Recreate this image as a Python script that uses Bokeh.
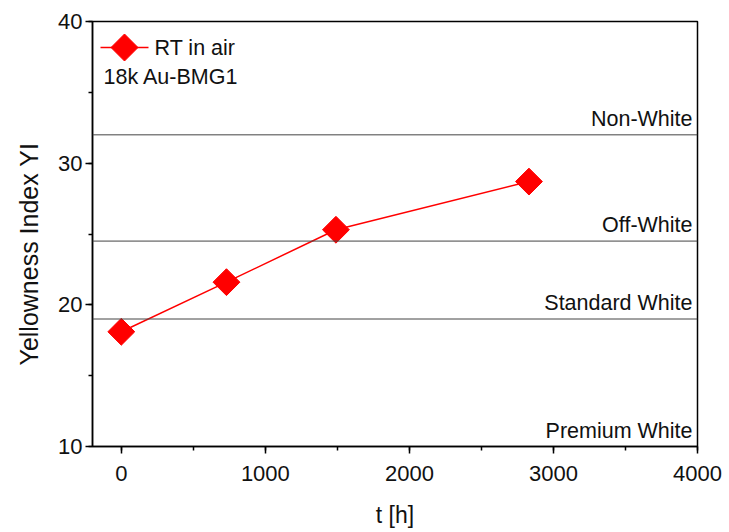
import math
from bokeh.plotting import figure
from bokeh.models import (Range1d, SingleIntervalTicker, Label, Span, PolyAnnotation,
                          ColumnDataSource, LabelSet, Title)
from bokeh.core.properties import value
from bokeh.embed import file_html
from bokeh.resources import INLINE

# data
t_hours = [0, 730, 1490, 2830]
yi_values = [18.1, 21.6, 25.3, 28.7]
series_name = "RT in air"
sample_name = "18k Au-BMG1"
band_limits = [32, 24.5, 19, 10]
band_labels = ["Non-White", "Off-White", "Standard White", "Premium White"]
x_title = "t [h]"
y_title = "Yellowness Index YI"

FONT = "Liberation Sans"
TXT = "#111111"

p = figure(width=729, height=532, output_backend="svg", toolbar_location=None,
           x_range=Range1d(-200, 4000), y_range=Range1d(10, 40),
           min_border_left=92, min_border_right=32, min_border_top=21, min_border_bottom=86)
p.xgrid.visible = False
p.ygrid.visible = False
p.outline_line_color = "black"
p.outline_line_width = 1.5
p.background_fill_color = "white"
p.border_fill_color = "white"

p.xaxis.ticker = SingleIntervalTicker(interval=1000, num_minor_ticks=2)
p.yaxis.ticker = SingleIntervalTicker(interval=10, num_minor_ticks=2)
for ax in (p.xaxis[0], p.yaxis[0]):
    ax.axis_line_color = "black"
    ax.axis_line_width = 1.5
    ax.major_tick_in = 0
    ax.major_tick_out = 7
    ax.minor_tick_in = 0
    ax.minor_tick_out = 4
    ax.major_tick_line_width = 1.5
    ax.minor_tick_line_width = 1.5
    ax.major_label_text_font = FONT
    ax.major_label_text_font_size = "22px"
    ax.major_label_text_color = TXT
    ax.axis_label_text_font = FONT
    ax.axis_label_text_font_size = "23px"
    ax.axis_label_text_font_style = "normal"
    ax.axis_label_text_color = TXT
p.xaxis.axis_label = x_title
p.xaxis.major_label_standoff = 12
p.xaxis.axis_label_standoff = 18
p.yaxis.major_label_standoff = 3

# y title as a side title, starting a little above the frame bottom like the reference
p.add_layout(Title(text=y_title, align="left", offset=81, standoff=25,
                   text_font=FONT, text_font_size="25px", text_font_style="normal",
                   text_color=TXT), "left")

# band lines
for lim in band_limits[:3]:
    p.add_layout(Span(location=lim, dimension="width", line_color="#444444", line_width=1))

src_b = ColumnDataSource(dict(x=[4000] * len(band_limits), y=band_limits, t=band_labels))
p.add_layout(LabelSet(x="x", y="y", text="t", source=src_b, x_offset=-5, y_offset=9,
                      text_align="right", text_baseline="alphabetic",
                      text_font=value(FONT), text_font_size=value("21.5px"),
                      text_color=TXT))

src = ColumnDataSource(dict(x=t_hours, y=yi_values))
p.line("x", "y", source=src, line_color="red", line_width=1.5)
p.scatter("x", "y", source=src, marker="square", angle=math.pi / 4, size=19,
          fill_color="red", line_color="red")

# legend (frame screen units, origin bottom-left of frame)
lx, ly, half = 32, 399, 13.5
p.add_layout(PolyAnnotation(xs=[lx - 24, lx + 24], ys=[ly, ly], xs_units="screen", ys_units="screen",
                            fill_alpha=0, line_color="red", line_alpha=1, line_width=1.5))
p.add_layout(PolyAnnotation(xs=[lx - half, lx, lx + half, lx], ys=[ly, ly + half, ly, ly - half],
                            xs_units="screen", ys_units="screen",
                            fill_color="red", fill_alpha=1, line_color="red", line_alpha=1,
                            line_width=1))
p.add_layout(Label(x=lx + 30, y=ly, x_units="screen", y_units="screen", text=series_name,
                   text_font=FONT, text_font_size="21.5px", text_color=TXT, text_baseline="middle"))
p.add_layout(Label(x=lx - 21, y=ly - 29, x_units="screen", y_units="screen", text=sample_name,
                   text_font=FONT, text_font_size="21.5px", text_color=TXT,
                   text_baseline="middle"))

open("out.html", "w").write(file_html(p, INLINE))
